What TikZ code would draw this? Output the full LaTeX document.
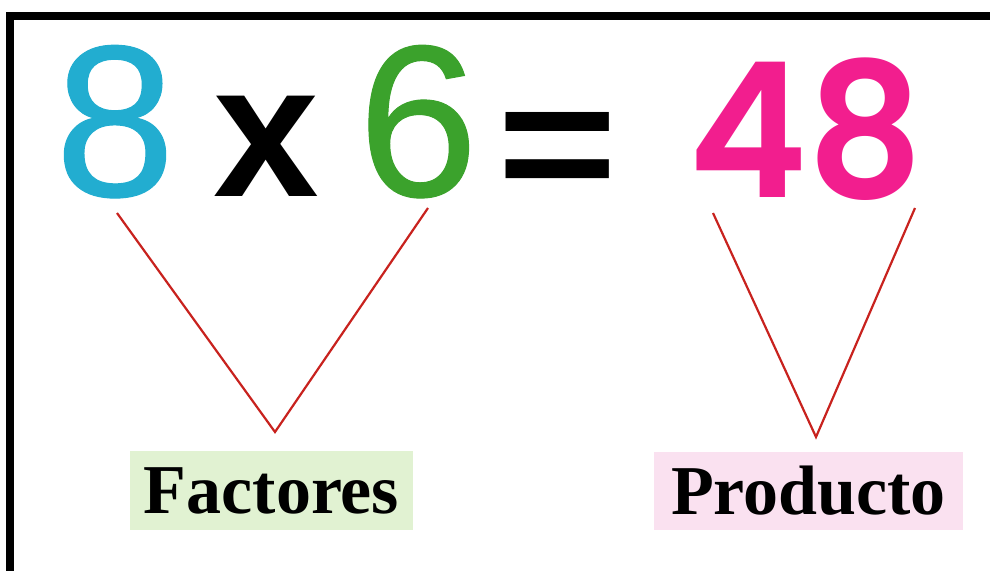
\documentclass[tikz,border=0pt]{standalone}
\usepackage{fontspec}
\setmainfont{Liberation Serif}
\newfontfamily\arialf{Liberation Sans}
\newfontfamily\arialfb{Liberation Sans}[FakeBold=0.5]
\IfFontExistsTF{Poppins SemiBold}
  {\newfontfamily\popf{Poppins SemiBold}\newcommand\popsel{\popf}}
  {\newfontfamily\popf{Poppins}\newcommand\popsel{\popf\bfseries}}
\definecolor{cyanA}{HTML}{22ADD0}
\definecolor{greenA}{HTML}{3BA22C}
\definecolor{pinkA}{HTML}{F21E8E}
\definecolor{redA}{HTML}{C8221E}
\definecolor{factbg}{HTML}{E1F2D2}
\definecolor{prodbg}{HTML}{FAE1F0}
\begin{document}
\begin{tikzpicture}[x=1pt,y=-1pt,
  bignum/.style={inner sep=0pt, anchor=base, font=\arialfb\fontsize{216}{216}\selectfont},
  labelbox/.style={inner sep=0pt, font=\bfseries\fontsize{70}{70}\selectfont, text=black},
  vline/.style={draw=redA, line width=2.2pt, line join=miter}]
\useasboundingbox (0,0) rectangle (990,570);
\begin{scope}
\clip (0,0) rectangle (990,570);
\draw[line width=8pt] (10,620) -- (10,16) -- (1040,16);
\end{scope}
% numbers
\node[bignum, text=cyanA] (eight) at (115,196) {8};
\node[bignum, text=black, font=\arialf\bfseries\fontsize{190}{190}\selectfont] (times) at (266,196) {x};
\node[bignum, text=greenA] (six) at (418,196) {6};
\node[inner sep=0pt, anchor=center, yscale=0.85, font=\arialf\bfseries\fontsize{206}{206}\selectfont] (eq) at (558,158) {=};
\node[inner sep=0pt, anchor=base, xscale=0.96, text=pinkA, font=\popsel\fontsize{188}{188}\selectfont] (prod) at (806,197) {48};
% labels
\node[labelbox, fill=factbg, minimum width=283pt, minimum height=79pt] (fact) at (271.5,490.5) {Factores};
\node[labelbox, fill=prodbg, minimum width=309pt, minimum height=78pt] (produ) at (808.5,491) {Producto};
% connector points
\coordinate (fa) at (117,213);
\coordinate (fv) at (275,432);
\coordinate (fb) at (428,208);
\coordinate (pa) at (713,213);
\coordinate (pv) at (816,437);
\coordinate (pb) at (915,208);
\draw[vline] (fa) -- (fv) -- (fb);
\draw[vline] (pa) -- (pv) -- (pb);
\end{tikzpicture}
\end{document}
